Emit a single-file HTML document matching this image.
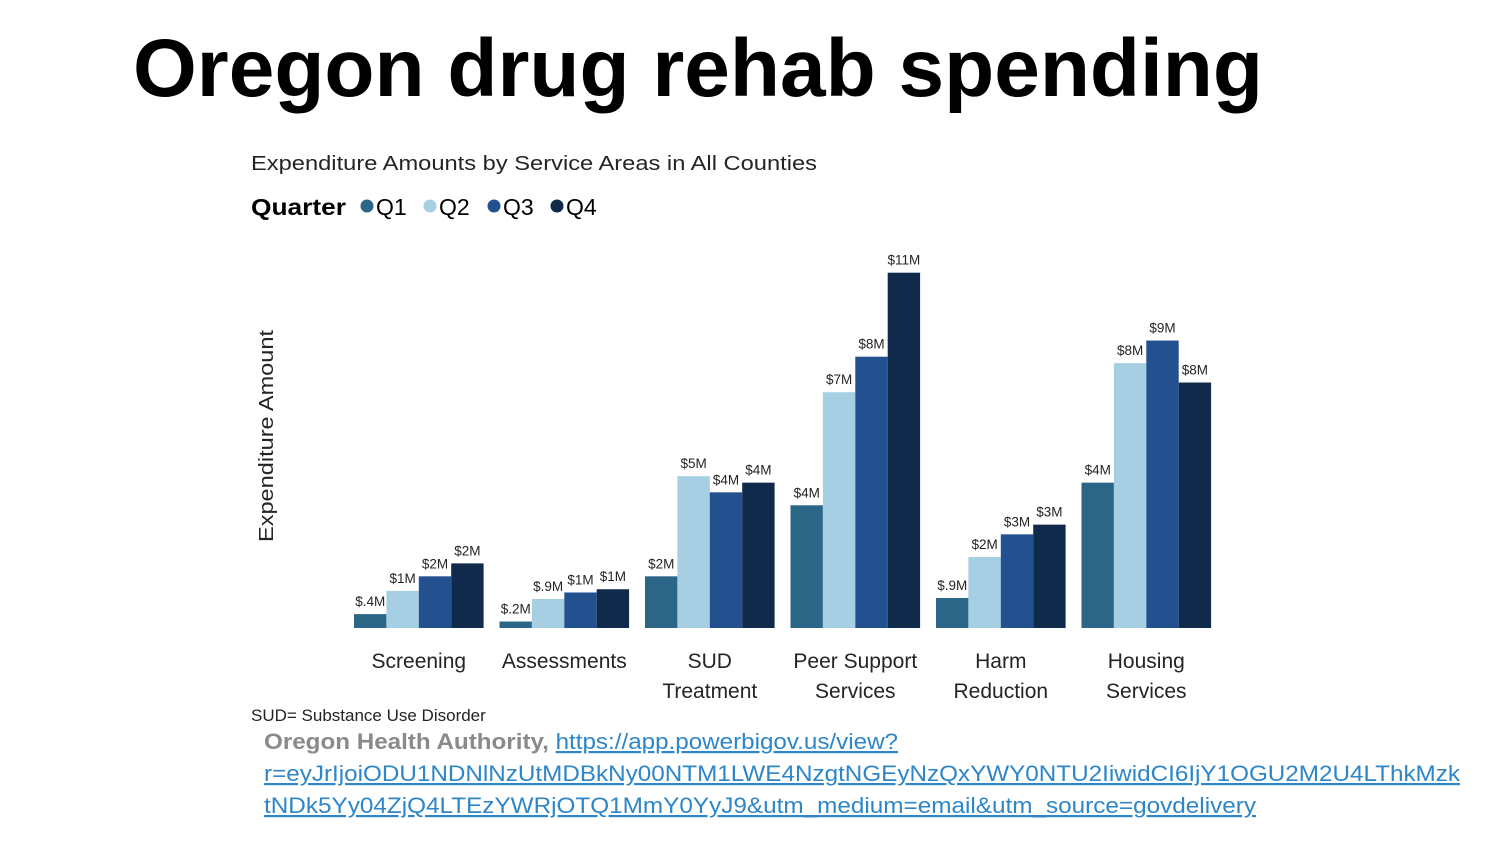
<!DOCTYPE html>
<html><head><meta charset="utf-8">
<style>
html,body{margin:0;padding:0;background:#fff;}
svg{display:block;font-family:"Liberation Sans",sans-serif;}
</style></head>
<body>
<svg id="chart" width="1500" height="844" viewBox="0 0 1500 844">
<text x="133" y="96" font-size="82" font-weight="bold" fill="#000" textLength="1130" lengthAdjust="spacingAndGlyphs">Oregon drug rehab spending</text>
<text x="251" y="170" font-size="20" fill="#252423" textLength="566" lengthAdjust="spacingAndGlyphs">Expenditure Amounts by Service Areas in All Counties</text>
<g id="legend">
<text x="251" y="215" font-size="23" font-weight="bold" fill="#000" textLength="95" lengthAdjust="spacingAndGlyphs">Quarter</text>
</g>
<text transform="translate(273,436) rotate(-90)" text-anchor="middle" font-size="20" fill="#252423" textLength="212" lengthAdjust="spacingAndGlyphs">Expenditure Amount</text>
<g id="bars"></g>
<g id="cats"></g>
<text x="251" y="721" font-size="17" fill="#252423">SUD= Substance Use Disorder</text>
<text x="264" y="749" font-size="22" fill="#7f7f7f" textLength="634" lengthAdjust="spacingAndGlyphs"><tspan font-weight="bold" fill="#8a8a8a">Oregon Health Authority, </tspan><tspan fill="#2e86c8" text-decoration="underline">https://app.powerbigov.us/view?</tspan></text>
<text x="264" y="781" font-size="22" fill="#2e86c8" text-decoration="underline" textLength="1196" lengthAdjust="spacingAndGlyphs">r=eyJrIjoiODU1NDNlNzUtMDBkNy00NTM1LWE4NzgtNGEyNzQxYWY0NTU2IiwidCI6IjY1OGU2M2U4LThkMzk</text>
<text x="264" y="813" font-size="22" fill="#2e86c8" text-decoration="underline" textLength="992" lengthAdjust="spacingAndGlyphs">tNDk5Yy04ZjQ4LTEzYWRjOTQ1MmY0YyJ9&amp;utm_medium=email&amp;utm_source=govdelivery</text>
</svg>
<script>
const categories=[["Screening"],["Assessments"],["SUD","Treatment"],["Peer Support","Services"],["Harm","Reduction"],["Housing","Services"]];
const seriesNames=["Q1","Q2","Q3","Q4"];
const q1=[0.43,0.2,1.6,3.8,0.93,4.5];
const q2=[1.15,0.9,4.7,7.3,2.2,8.2];
const q3=[1.6,1.1,4.2,8.4,2.9,8.9];
const q4=[2.0,1.2,4.5,11.0,3.2,7.6];
const l1=["$.4M","$.2M","$2M","$4M","$.9M","$4M"];
const l2=["$1M","$.9M","$5M","$7M","$2M","$8M"];
const l3=["$2M","$1M","$4M","$8M","$3M","$9M"];
const l4=["$2M","$1M","$4M","$11M","$3M","$8M"];
const colors=["#2b6687","#a6cfe3","#23518f","#0f2a4a"];
const series=[q1,q2,q3,q4], labels=[l1,l2,l3,l4];
const NS="http://www.w3.org/2000/svg";
const base=628, pxPerM=32.3, x0=354, groupStep=145.5, barW=32.4;
const y=v=>base-v*pxPerM;
const gx=i=>x0+i*groupStep;
const bars=document.getElementById('bars'), cats=document.getElementById('cats'), leg=document.getElementById('legend');
function mk(tag,attrs,parent){const e=document.createElementNS(NS,tag);for(const k in attrs)e.setAttribute(k,attrs[k]);parent.appendChild(e);return e;}
seriesNames.forEach((n,s)=>{
  const lx=[367,430,494,557][s];
  const c=mk('circle',{cx:lx,cy:206,r:6.5,fill:colors[s]},leg);
  
  
  const t=mk('text',{x:lx+9,y:215,'font-size':23,fill:'#000'},leg);
  t.textContent=n;
  
  
});
categories.forEach((c,i)=>{
  series.forEach((arr,s)=>{
    const bx=gx(i)+s*barW, top=y(arr[i]);
    const r=mk('rect',{x:bx,y:top,width:barW,height:base-top,fill:colors[s]},bars);
    
    
    const t=mk('text',{x:bx+barW/2,y:top-8,'text-anchor':'middle','font-size':13.5,fill:'#252423'},bars);
    t.textContent=labels[s][i];
    
    
  });
  c.forEach((line,k)=>{
    const t=mk('text',{x:gx(i)+2*barW,y:668+k*30,'text-anchor':'middle','font-size':21,fill:'#252423'},cats);
    t.textContent=line;
    
    
  });
});
</script>
</body></html>
